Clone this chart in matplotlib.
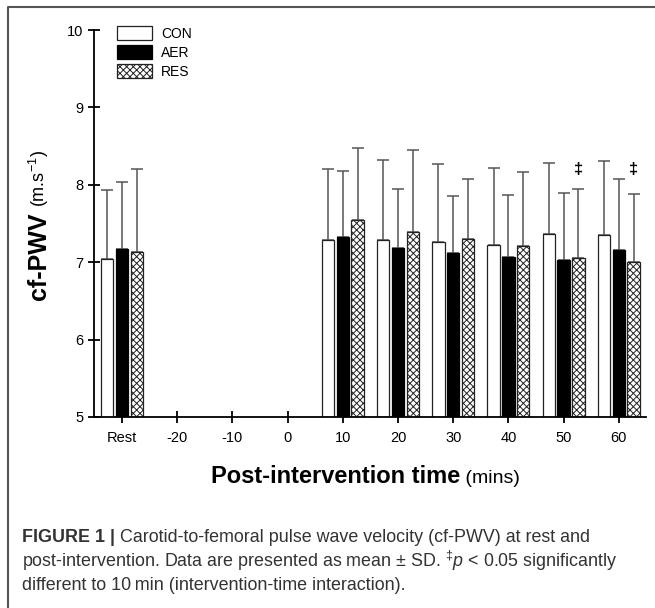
import matplotlib
matplotlib.use("Agg")
import matplotlib.pyplot as plt
from matplotlib.lines import Line2D
from matplotlib.patches import Patch
import numpy as np

plt.rcParams['font.family'] = ['Liberation Sans', 'DejaVu Sans']
plt.rcParams['mathtext.fontset'] = 'custom'
plt.rcParams['mathtext.rm'] = 'Liberation Sans'
plt.rcParams['mathtext.it'] = 'Liberation Sans:italic'
plt.rcParams['mathtext.bf'] = 'Liberation Sans:bold'
plt.rcParams['hatch.linewidth'] = 0.7

categories = ['Rest', '-20', '-10', '0', '10', '20', '30', '40', '50', '60']
series = ['CON', 'AER', 'RES']
con_mean = [7.04, np.nan, np.nan, np.nan, 7.29, 7.29, 7.26, 7.22, 7.36, 7.35]
aer_mean = [7.17, np.nan, np.nan, np.nan, 7.33, 7.18, 7.12, 7.07, 7.03, 7.16]
res_mean = [7.13, np.nan, np.nan, np.nan, 7.54, 7.39, 7.30, 7.21, 7.05, 7.00]
con_sd = [0.89, np.nan, np.nan, np.nan, 0.91, 1.03, 1.01, 1.00, 0.92, 0.96]
aer_sd = [0.87, np.nan, np.nan, np.nan, 0.85, 0.77, 0.74, 0.80, 0.86, 0.92]
res_sd = [1.08, np.nan, np.nan, np.nan, 0.93, 1.06, 0.78, 0.95, 0.89, 0.88]
sig_cats = ['50', '60']
sig_y = 8.2

fig = plt.figure(figsize=(6.55, 6.08), dpi=100)
ax = fig.add_axes([94.4/655, 1-417/608, 552/655, 387/608])

x = np.arange(len(categories))
w = 0.225
off = 0.268
styles = [dict(facecolor='white', edgecolor='#222222', hatch=None),
          dict(facecolor='black', edgecolor='black', hatch=None),
          dict(facecolor='white', edgecolor='#222222', hatch='xxxxx')]
means = [con_mean, aer_mean, res_mean]
sds = [con_sd, aer_sd, res_sd]
for i, (m, s, st) in enumerate(zip(means, sds, styles)):
    xi = x + (i-1)*off
    m = np.array(m); s = np.array(s)
    ok = ~np.isnan(m)
    ax.errorbar(xi[ok], m[ok], yerr=[np.zeros(ok.sum()), s[ok]], fmt='none',
                ecolor='#555555', elinewidth=1.1, capsize=4, capthick=1.1, zorder=1)
    ax.bar(xi[ok], m[ok]-5, bottom=5, width=w, linewidth=0.9, zorder=2, **st)

for c in sig_cats:
    i = categories.index(c)
    ax.text(x[i]+off, sig_y, '‡', ha='center', va='center', fontsize=12, fontweight='bold')

ax.set_xlim(-0.5, 9.5)
ax.set_ylim(5, 10)
ax.set_yticks([5, 6, 7, 8, 9, 10])
ax.set_xticks(x)
ax.set_xticklabels(categories)
for sp in ['top', 'right']:
    ax.spines[sp].set_visible(False)
for sp in ['left', 'bottom']:
    ax.spines[sp].set_linewidth(1.3)
ax.tick_params(axis='both', direction='inout', length=8, width=1.3, labelsize=10.5, pad=4)
ax.tick_params(axis='x', pad=6)

handles = [Patch(**styles[0], linewidth=0.9), Patch(**styles[1], linewidth=0.9), Patch(**styles[2], linewidth=0.9)]
leg = fig.legend(handles, series, loc='upper left', bbox_to_anchor=(117/655, 1-26/608),
                 frameon=False, fontsize=10, handlelength=2.5, handleheight=1.2,
                 labelspacing=0.3, handletextpad=0.65, borderpad=0, borderaxespad=0)

# y label
t1 = fig.text(39/655, 1-300/608, 'cf-PWV', rotation=90, ha='center', va='bottom',
              fontsize=18, fontweight='bold')
ax.annotate(' (m.s$^{-1}$)', xy=(0.5, 1), xycoords=t1, rotation=90, ha='center', va='bottom',
            fontsize=13, annotation_clip=False)

# x label (shared baseline)
base_y = 1 - 483/608
t2 = fig.text(211/655, base_y, 'Post-intervention time', ha='left', va='baseline',
              fontsize=17, fontweight='bold')
fig.canvas.draw()
bb = t2.get_window_extent()
fig.text(bb.x1/fig.bbox.width, base_y, ' (mins)', ha='left', va='baseline', fontsize=14)

# frame
fig.add_artist(Line2D([7.5/655, 7.5/655, 1], [0, 1-6.5/608, 1-6.5/608], transform=fig.transFigure,
                      color='#555555', linewidth=1.5))

# caption
cc = '#333333'
cfs = 12.9
c1 = fig.text(22/655, 1-537/608, 'FIGURE 1 |', ha='left', va='center', fontsize=cfs,
              fontweight='bold', color=cc)
ax.annotate(' Carotid-to-femoral pulse wave velocity (cf-PWV) at rest and', xy=(1, 0.5), xycoords=c1,
            ha='left', va='center', fontsize=cfs, color=cc, annotation_clip=False)
fig.text(22/655, 1-561/608, 'post-intervention. Data are presented as mean \u00b1 SD. $^{\u2021}\\mathit{p}$ < 0.05 significantly',
         ha='left', va='center', fontsize=cfs, color=cc)
fig.text(22/655, 1-585/608, 'different to 10\u2009min (intervention-time interaction).',
         ha='left', va='center', fontsize=cfs, color=cc)

fig.savefig('out.png', dpi=100)
